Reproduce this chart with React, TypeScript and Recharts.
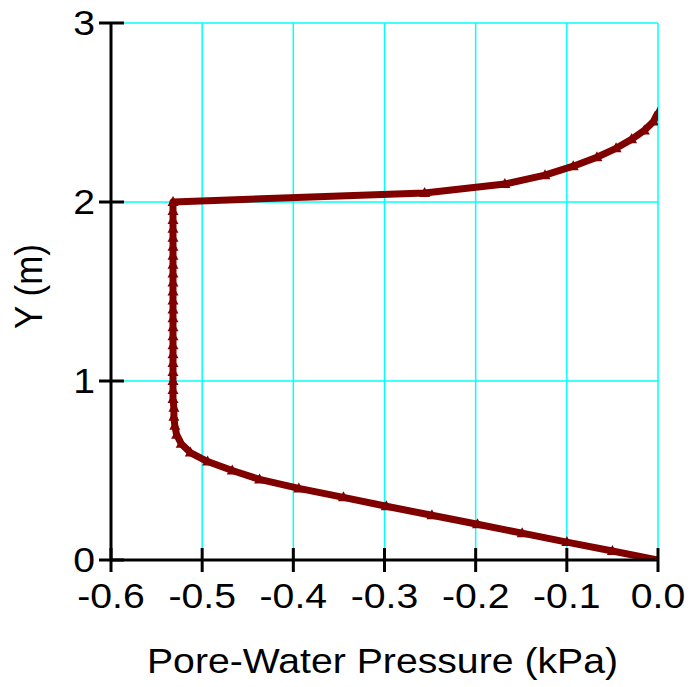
import React from 'react';
import { LineChart, Line, XAxis, YAxis, CartesianGrid } from 'recharts';

// elevation (m) and pore-water pressure (kPa)
const elevation = [
  0, 0.05, 0.1, 0.15, 0.2, 0.25, 0.3, 0.35, 0.4, 0.45, 0.5, 0.55, 0.6, 0.65, 0.7, 0.75, 0.8, 0.85, 0.9, 0.95,
  1.0, 1.05, 1.1, 1.15, 1.2, 1.25, 1.3, 1.35, 1.4, 1.45, 1.5, 1.55, 1.6, 1.65, 1.7, 1.75, 1.8, 1.85, 1.9, 1.95,
  2.0, 2.05, 2.1, 2.15, 2.2, 2.25, 2.3, 2.35, 2.4, 2.45, 2.5,
];
const pressure = [
  0, -0.05, -0.1, -0.149, -0.198, -0.248, -0.298, -0.345, -0.394, -0.437, -0.467, -0.494, -0.513, -0.523, -0.528, -0.53, -0.531, -0.531, -0.532, -0.532,
  -0.532, -0.532, -0.532, -0.532, -0.532, -0.532, -0.532, -0.532, -0.532, -0.532, -0.532, -0.532, -0.532, -0.532, -0.532, -0.532, -0.532, -0.532, -0.532, -0.532,
  -0.532, -0.256, -0.168, -0.124, -0.093, -0.067, -0.046, -0.029, -0.015, -0.005, 0,
];
const xTicks = [-0.6, -0.5, -0.4, -0.3, -0.2, -0.1, 0];
const yTicks = [0, 1, 2, 3];

const data = elevation.map((y, i) => ({ y, p: pressure[i] }));

const FONT = '"Liberation Sans", Arial, sans-serif';
const SX = 1.12; // text in the original is a little stretched sideways
const FS = 35;
const RED = '#800000';

const XTick = (props: any) => {
  const { x, y, payload } = props;
  return (
    <g>
      <line x1={x} x2={x} y1={y - 12} y2={y + 12} stroke="#000" strokeWidth={3} />
      <g transform={`translate(${x},${y + 48}) scale(${SX},1)`}>
        <text textAnchor="middle" fontSize={FS} fontFamily={FONT} fill="#000">
          {Number(payload.value).toFixed(1)}
        </text>
      </g>
    </g>
  );
};

const YTick = (props: any) => {
  const { x, y, payload } = props;
  return (
    <g>
      <line x1={x - 12} x2={x + 13} y1={y} y2={y} stroke="#000" strokeWidth={3} />
      <g transform={`translate(${x - 16},${y + 12}) scale(${SX},1)`}>
        <text textAnchor="end" fontSize={FS} fontFamily={FONT} fill="#000">
          {payload.value}
        </text>
      </g>
    </g>
  );
};

const Triangle = (props: any) => {
  const { cx, cy, index } = props;
  if (cx == null || cy == null) return <g key={index} />;
  return (
    <polygon
      key={index}
      points={`${cx},${cy - 6} ${cx - 5.5},${cy + 4} ${cx + 5.5},${cy + 4}`}
      fill={RED}
    />
  );
};

export default function App() {
  return (
    <div style={{ position: 'absolute', left: 0, top: 0, background: '#fff' }}>
      <LineChart width={691} height={687} data={data} margin={{ top: 23, right: 33, bottom: 0, left: 0 }}>
        <CartesianGrid stroke="#00ffff" strokeWidth={1.5} />
        <XAxis
          type="number"
          dataKey="p"
          domain={[-0.6, 0]}
          ticks={xTicks}
          interval={0}
          height={127}
          tickSize={0}
          tickMargin={0}
          tick={<XTick />}
          axisLine={{ stroke: '#000', strokeWidth: 3 }}
          tickLine={false}
          allowDataOverflow
          label={(p: any) => {
            const vb = p.viewBox;
            return (
              <g transform={`translate(${vb.x + vb.width / 2 - 2},${vb.y + 113}) scale(${SX},1)`}>
                <text textAnchor="middle" fontSize={FS} fontFamily={FONT} fill="#000">
                  Pore-Water Pressure (kPa)
                </text>
              </g>
            );
          }}
        />
        <YAxis
          type="number"
          dataKey="y"
          domain={[0, 3]}
          ticks={yTicks}
          interval={0}
          width={111}
          tickSize={0}
          tickMargin={0}
          tick={<YTick />}
          axisLine={{ stroke: '#000', strokeWidth: 3 }}
          tickLine={false}
          allowDataOverflow
          label={(p: any) => {
            const vb = p.viewBox;
            return (
              <g transform={`translate(${vb.x + 42},${vb.y + vb.height / 2 - 5}) scale(${SX},1) rotate(-90)`}>
                <text textAnchor="middle" fontSize={FS} fontFamily={FONT} fill="#000">
                  Y (m)
                </text>
              </g>
            );
          }}
        />
        <Line
          type="linear"
          dataKey="y"
          stroke={RED}
          strokeWidth={7}
          strokeLinejoin="round"
          dot={Triangle}
          activeDot={false}
          isAnimationActive={false}
        />
      </LineChart>
    </div>
  );
}
